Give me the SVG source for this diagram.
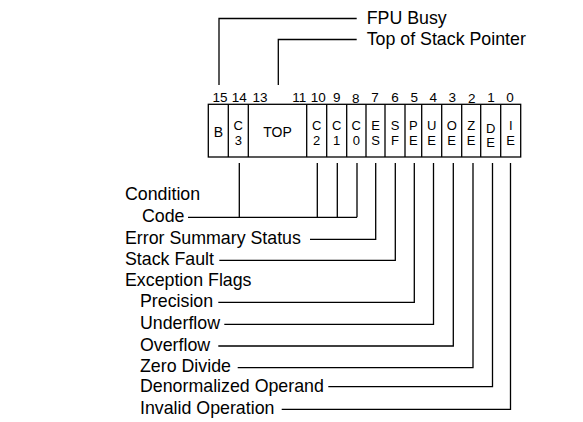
<svg xmlns="http://www.w3.org/2000/svg" width="583" height="422" viewBox="0 0 583 422">
<style>
text{font-family:"Liberation Sans",Arial,sans-serif;fill:#000}
.lbl{font-size:17.8px}
.num{font-size:13.5px;text-anchor:middle}
.cell{font-size:13px;text-anchor:middle}
.big{font-size:14px}
.ln{stroke:#000;stroke-width:1.3;fill:none}
</style>
<rect width="583" height="422" fill="#fff"/>
<g id="register">
<rect class="ln" x="208.3" y="104.3" width="312.4" height="52.7"/>
<path class="ln" d="M228.3 104.3V157M248.3 104.3V157M306.7 104.3V157M326.7 104.3V157M346.7 104.3V157M366 104.3V157M385 104.3V157M405 104.3V157M421.7 104.3V157M441.7 104.3V157M461.7 104.3V157M480.7 104.3V157M500.7 104.3V157"/>
<g class="num">
<text x="220" y="101.5">15</text><text x="239.3" y="101.5">14</text><text x="260" y="101.5">13</text><text x="299.3" y="101.5">11</text><text x="318.3" y="101.5">10</text><text x="336.7" y="101.5">9</text><text x="355.7" y="102.5">8</text><text x="375" y="101.5">7</text><text x="395" y="102">6</text><text x="414.3" y="101.5">5</text><text x="433.3" y="101.5">4</text><text x="452.3" y="101.5">3</text><text x="471.7" y="103">2</text><text x="491" y="101.5">1</text><text x="510" y="101.5">0</text>
</g>
<g class="cell">
<text class="big" x="218.3" y="137">B</text>
<text x="238.3" y="130.3">C</text><text x="238.3" y="144.9">3</text>
<text class="big" x="277.5" y="137">TOP</text>
<text x="316.7" y="130.3">C</text><text x="316.7" y="144.9">2</text>
<text x="336.7" y="130.3">C</text><text x="336.7" y="144.9">1</text>
<text x="356.3" y="130.3">C</text><text x="356.3" y="144.9">0</text>
<text x="375.5" y="130.3">E</text><text x="375.5" y="144.9">S</text>
<text x="395" y="130.3">S</text><text x="395" y="144.9">F</text>
<text x="413.3" y="130.3">P</text><text x="413.3" y="144.9">E</text>
<text x="431.7" y="130.3">U</text><text x="431.7" y="144.9">E</text>
<text x="451.7" y="130.3">O</text><text x="451.7" y="144.9">E</text>
<text x="471.2" y="130.3">Z</text><text x="471.2" y="144.9">E</text>
<text x="490.7" y="132.6">D</text><text x="490.7" y="147.2">E</text>
<text x="510.7" y="130.3">I</text><text x="510.7" y="144.9">E</text>
</g>
</g>
<g id="connectors" class="ln">
<path d="M219 85V18.5H356.7"/>
<path d="M278.3 85V39.5H356.7"/>
<path d="M188 217.3H357M239.3 163V217.3M317.3 163V217.3M337.3 163V217.3M357 163V217.3"/>
<path d="M310 239.3H375.7V163"/>
<path d="M219.3 260.3H395.3V163"/>
<path d="M218.3 302.3H414.3V163"/>
<path d="M224.3 324.3H433.5V163"/>
<path d="M218.3 346H453.3V163"/>
<path d="M237.7 367.7H473V163"/>
<path d="M328.3 386.7H492.5V163"/>
<path d="M281.7 409.3H510.5V163"/>
</g>
<g id="fpu-busy"><text class="lbl" x="366.7" y="24">FPU Busy</text></g>
<g id="top-of-stack"><text class="lbl" x="366.7" y="45">Top of Stack Pointer</text></g>
<g id="condition-code"><text class="lbl" x="125" y="200.3">Condition</text><text class="lbl" x="142" y="221.8">Code</text></g>
<g id="error-summary"><text class="lbl" x="125" y="243.6">Error Summary Status</text></g>
<g id="stack-fault"><text class="lbl" x="125" y="264.8">Stack Fault</text></g>
<g id="exception-flags"><text class="lbl" x="125" y="286.3">Exception Flags</text></g>
<g id="precision"><text class="lbl" x="140" y="306.8">Precision</text></g>
<g id="underflow"><text class="lbl" x="140" y="328.8">Underflow</text></g>
<g id="overflow"><text class="lbl" x="140" y="350.5">Overflow</text></g>
<g id="zero-divide"><text class="lbl" x="140" y="372.2">Zero Divide</text></g>
<g id="denormalized"><text class="lbl" x="140" y="392.2">Denormalized Operand</text></g>
<g id="invalid"><text class="lbl" x="140" y="413.8">Invalid Operation</text></g>
</svg>
